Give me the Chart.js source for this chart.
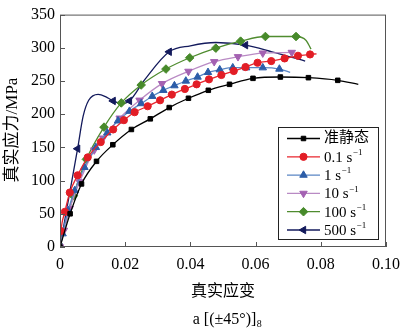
<!DOCTYPE html>
<html><head><meta charset="utf-8">
<script src="https://cdn.jsdelivr.net/npm/chart.js@4.4.0/dist/chart.umd.min.js"></script>
<style>html,body{margin:0;padding:0;background:#fff}</style>
</head><body>
<canvas id="c" width="408" height="332"></canvas>
<script>
// true stress (MPa) vs true strain
const rateLabels = ['准静态', '0.1', '1', '10', '100', '500'];

const qsX = [0, 0.0031, 0.0066, 0.0112, 0.0162, 0.0219, 0.0277, 0.0335, 0.0394, 0.0455, 0.052, 0.0592, 0.0676, 0.0762, 0.0852, 0.0915];
const qsY = [0, 50, 95, 129, 154, 177, 193, 210, 224, 236, 245, 254, 256, 255, 251, 245];
const qsMarks = [0,1,2,3,4,5,6,7,8,9,10,11,12,13,14];

const r01X = [0, 0.0003, 0.0015, 0.003, 0.0054, 0.0085, 0.0125, 0.0163, 0.0196, 0.0229, 0.0269, 0.0307, 0.0343, 0.0383, 0.0419, 0.0457, 0.0495, 0.0533, 0.0569, 0.0606, 0.0648, 0.0689, 0.073, 0.0767, 0.0787];
const r01Y = [0, 24, 53, 82, 108, 135, 158, 177, 191, 203, 212, 221, 229.5, 238, 245, 252.5, 259, 265, 271, 277.5, 280, 284, 288, 290, 291];
const r01Marks = [1,2,3,4,5,6,7,8,9,10,11,12,13,14,15,16,17,18,19,20,21,22,23];

const r1X = [0, 0.0008, 0.0025, 0.0045, 0.0075, 0.011, 0.0145, 0.0178, 0.0213, 0.0249, 0.0283, 0.0317, 0.0351, 0.0386, 0.0422, 0.0454, 0.049, 0.053, 0.0571, 0.0622, 0.0673, 0.0706];
const r1Y = [0, 20, 55, 85, 120, 150, 172, 190, 204.5, 216, 227, 236, 243, 250, 256, 263, 267, 270, 270, 270, 268, 263];
const r1Marks = [0,1,2,3,4,5,6,7,8,9,10,11,12,13,14,15,16,17,18,19,20];

const r10X = [0, 0.0012, 0.003, 0.006, 0.0105, 0.0132, 0.0183, 0.0244, 0.0313, 0.0394, 0.0473, 0.0546, 0.0622, 0.0711];
const r10Y = [0, 25, 58, 98, 146, 164, 194, 221, 246, 264.5, 279, 286.5, 292, 293];
const r10Marks = [0,1,2,3,4,5,6,7,8,9,10,11,12,13];

const r100X = [0, 0.0015, 0.0041, 0.0081, 0.0135, 0.0188, 0.0249, 0.0325, 0.0398, 0.0478, 0.0554, 0.063, 0.0724, 0.0755, 0.077];
const r100Y = [0, 30, 77, 132, 180.5, 217, 244, 268, 285, 299.5, 310, 317, 317, 311, 298];
const r100Marks = [0,2,3,4,5,6,7,8,9,10,11,12];

const r500X = [0, 0.002, 0.0054, 0.0071, 0.0088, 0.0117, 0.0145, 0.0163, 0.0188, 0.0213, 0.026, 0.0335, 0.04, 0.0478, 0.0569, 0.065, 0.0752];
const r500Y = [0, 55, 148, 197, 221, 230, 225, 220, 216, 220, 252, 294, 303, 308, 304, 294, 280];
const r500Marks = [0,2,7,9,11,14];

const xTicks = [0, 0.02, 0.04, 0.06, 0.08, 0.10];
const yTicks = [0, 50, 100, 150, 200, 250, 300, 350];

const serif = '"Liberation Serif", "Noto Sans CJK SC", serif';

const series = [
  {x: qsX,   y: qsY,   m: qsMarks,   line: '#000000', fill: '#000000', shape: 'rect',     rot: 0,   r: 3.2},
  {x: r01X,  y: r01Y,  m: r01Marks,  line: '#e8262e', fill: '#e21d26', shape: 'circle',   rot: 0,   r: 3.6},
  {x: r1X,   y: r1Y,   m: r1Marks,   line: '#5a86c4', fill: '#2c5da8', shape: 'triangle', rot: 0,   r: 4.3},
  {x: r10X,  y: r10Y,  m: r10Marks,  line: '#b98ac4', fill: '#a462b2', shape: 'triangle', rot: 180, r: 4.3},
  {x: r100X, y: r100Y, m: r100Marks, line: '#4f8c2f', fill: '#478a2a', shape: 'rectRot',  rot: 0,   r: 4.3},
  {x: r500X, y: r500Y, m: r500Marks, line: '#131a5c', fill: '#131a5c', shape: 'triangle', rot: 270, r: 4.3}
];

const datasets = series.map((s, i) => ({
  label: rateLabels[i],
  data: s.x.map((v, k) => ({x: v, y: s.y[k]})),
  borderColor: s.line,
  borderWidth: 1.3,
  backgroundColor: s.fill,
  pointBackgroundColor: s.fill,
  pointBorderColor: s.fill,
  pointBorderWidth: 1,
  pointStyle: s.shape,
  rotation: s.rot,
  pointRadius: ctx => s.m.includes(ctx.dataIndex) ? s.r : 0,
  pointHoverRadius: 0,
  cubicInterpolationMode: 'monotone',
  fill: false
}));

function drawMarker(ctx, s, x, y){
  if (Chart.helpers && Chart.helpers.drawPoint) {
    Chart.helpers.drawPoint(ctx, {pointStyle: s.shape, rotation: s.rot, radius: s.r, borderWidth: 1}, x, y);
  } else {
    ctx.beginPath(); ctx.arc(x, y, s.r, 0, Math.PI*2); ctx.fill();
  }
}

const decor = {
  id: 'decor',
  afterDraw(chart){
    const {ctx, chartArea: a, scales: {x, y}} = chart;
    ctx.save();
    // frame + inward ticks
    ctx.strokeStyle = '#555'; ctx.lineWidth = 1;
    ctx.strokeRect(a.left + 0.5, a.top + 0.5, a.width - 1, a.height - 1);
    ctx.beginPath();
    xTicks.forEach(v => { const px = Math.round(x.getPixelForValue(v)) + 0.5; ctx.moveTo(px, a.bottom); ctx.lineTo(px, a.bottom - 5); });
    yTicks.forEach(v => { const py = Math.round(y.getPixelForValue(v)) + 0.5; ctx.moveTo(a.left, py); ctx.lineTo(a.left + 5, py); });
    ctx.stroke();

    // legend box
    const bx = 278, by = 127, bw = 100, bh = 112;
    ctx.fillStyle = '#fff'; ctx.fillRect(bx, by, bw, bh);
    ctx.strokeStyle = '#222'; ctx.strokeRect(bx + 0.5, by + 0.5, bw, bh);
    series.forEach((s, i) => {
      const ly = 138.5 + i * 18.3;
      ctx.strokeStyle = s.line; ctx.lineWidth = 1.3;
      ctx.beginPath(); ctx.moveTo(287, ly); ctx.lineTo(320, ly); ctx.stroke();
      ctx.fillStyle = s.fill; ctx.strokeStyle = s.fill; ctx.lineWidth = 1;
      drawMarker(ctx, s, 303.5, ly);
      ctx.fillStyle = '#000'; ctx.textBaseline = 'middle'; ctx.textAlign = 'left';
      ctx.font = '15px ' + serif;
      if (i === 0) {
        ctx.fillText(rateLabels[i], 324, ly);
      } else {
        const t = rateLabels[i] + ' s';
        ctx.fillText(t, 324, ly + 1);
        const w = ctx.measureText(t).width;
        ctx.font = '9px ' + serif;
        ctx.fillText('\u22121', 324 + w + 0.5, ly - 4);
      }
    });

    // axis titles and caption
    ctx.fillStyle = '#000';
    ctx.font = '16px ' + serif;
    ctx.textAlign = 'center'; ctx.textBaseline = 'middle';
    ctx.fillText('真实应变', (a.left + a.right) / 2, 292);

    ctx.save();
    ctx.translate(13, 130);
    ctx.rotate(-Math.PI / 2);
    ctx.font = '17px ' + serif;
    ctx.fillText('真实应力/MPa', 0, 0);
    ctx.restore();

    ctx.font = '16px ' + serif;
    const cap = 'a [(±45°)]';
    const cw = ctx.measureText(cap).width;
    ctx.textAlign = 'left';
    const cx = 227 - (cw + 5) / 2;
    ctx.fillText(cap, cx, 320);
    ctx.font = '10px ' + serif;
    ctx.fillText('8', cx + cw + 0.5, 324);
    ctx.restore();
  }
};

new Chart(document.getElementById('c'), {
  type: 'line',
  data: {datasets},
  options: {
    responsive: false,
    animation: false,
    devicePixelRatio: 1,
    layout: {padding: {left: 0, top: 4, right: 20, bottom: 0}},
    plugins: {legend: {display: false}, tooltip: {enabled: false}},
    scales: {
      x: {
        type: 'linear', min: 0, max: 0.1,
        afterFit: s => { s.height = 85; },
        afterBuildTicks: s => { s.ticks = xTicks.map(v => ({value: v})); },
        grid: {display: false, drawTicks: false}, border: {display: false},
        ticks: {color: '#000', padding: 8, font: {family: serif, size: 16},
          callback: v => v === 0 ? '0' : v.toFixed(2)}
      },
      y: {
        min: 0, max: 350,
        afterFit: s => { s.width = 60; },
        afterBuildTicks: s => { s.ticks = yTicks.map(v => ({value: v})); },
        grid: {display: false, drawTicks: false}, border: {display: false},
        ticks: {color: '#000', padding: 5, font: {family: serif, size: 16}}
      }
    }
  },
  plugins: [decor]
});
</script>
</body></html>
